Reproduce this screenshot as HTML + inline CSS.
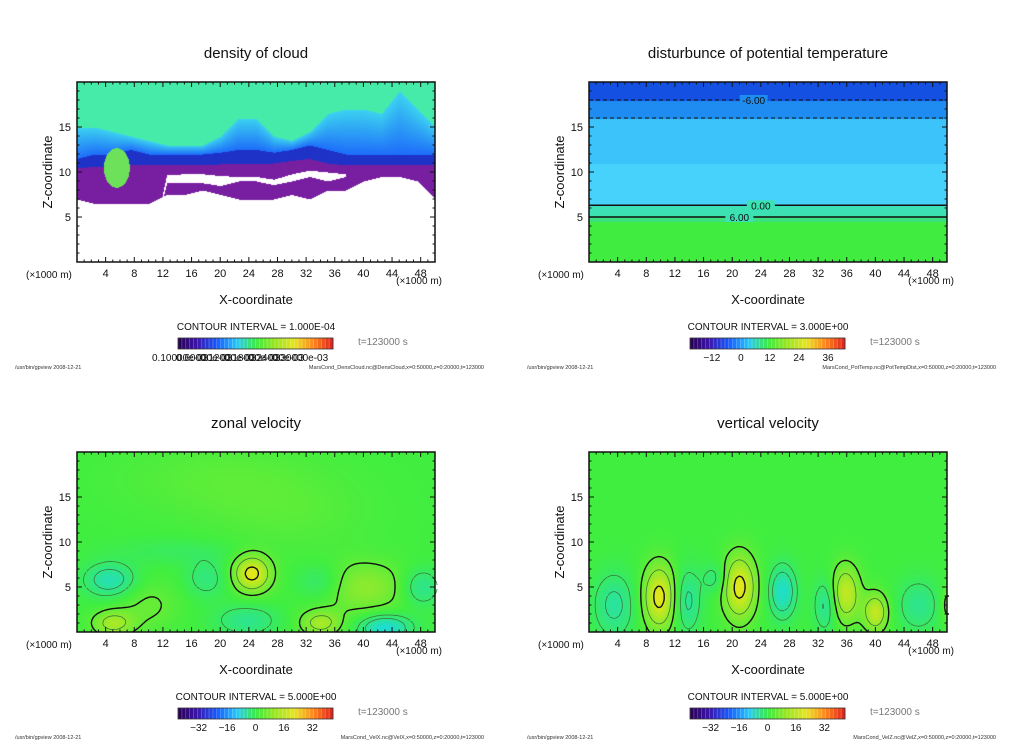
<!DOCTYPE html>
<html><head><meta charset="utf-8"><style>
body{margin:0;background:#fff;width:1024px;height:740px;overflow:hidden;position:relative;font-family:"Liberation Sans",sans-serif}
canvas{position:absolute}
svg{position:absolute;left:0;top:0}
</style></head><body>
<canvas id="c0" width="358" height="180" style="left:77px;top:82px"></canvas>
<canvas id="c1" width="358" height="180" style="left:589px;top:82px"></canvas>
<canvas id="c2" width="358" height="180" style="left:77px;top:452px"></canvas>
<canvas id="c3" width="358" height="180" style="left:589px;top:452px"></canvas>
<svg id="ov" width="1024" height="740"></svg>
<script>
// ---- data ----
const xTicks=[4,8,12,16,20,24,28,32,36,40,44,48];
const zTicks=[5,10,15];
const titles=["density of cloud","disturbunce of potential temperature","zonal velocity","vertical velocity"];
const intervals=["1.000E-04","3.000E+00","5.000E+00","5.000E+00"];
const footers=["MarsCond_DensCloud.nc@DensCloud,x=0:50000,z=0:20000,t=123000","MarsCond_PotTemp.nc@PotTempDist,x=0:50000,z=0:20000,t=123000","MarsCond_VelX.nc@VelX,x=0:50000,z=0:20000,t=123000","MarsCond_VelZ.nc@VelZ,x=0:50000,z=0:20000,t=123000"];
const ptTicks=[-12,0,12,24,36];
const velTicks=[-32,-16,0,16,32];
const cloudTickLabels=["0.10000e-03","0.60000e-03","0.12000e-03","0.18000e-03","0.24000e-03","0.30000e-03"];
// cloud layer boundaries sampled every 2.5 km
const cloudBase=[7,6.5,6.5,6.5,6.5,7.5,7.5,8,7.5,7,7,7,7.5,7,8,8,9,9.5,9.5,9,7];
const gapLo=[0,0,0,0,0,8.8,8.8,8.8,8.5,9,9,8.6,9,9.5,9,9.5,0,0,0,0,0];
const gapHi=[0,0,0,0,0,9.7,9.8,9.8,9.6,9.5,9.5,9.2,9.8,10.2,10,9.8,0,0,0,0,0];
const purpleTop=[10.5,10.6,10.6,10.8,10.8,10.8,10.8,10.8,10.9,11,11,11,11.3,11.5,11,10.8,10.8,10.8,10.8,10.8,10.8];
const blueTop=[11.5,12,12,12.5,12,12,12,12,12.2,12.5,12.5,12.2,12.5,13,12.5,12,12,12,12,12,12];
const cyanTop=[15,15,14.5,14,13.5,13,13,13,14,16,16,14,13.5,14.5,16.5,17,17,16.5,19,17,15];
// potential temperature layer heights (km)
const ptLayers=[4.5,5.2,6.3,16,18];
// velocity blobs: x km, z km, amplitude, sigma-x, sigma-z
const uBx=[24.4,4.6,23.7,43,39.5,5,34,34,48,18,10,30,20,14];
const uBz=[6.5,5.8,1.3,0.5,5,1,1,5.5,5,6,3,13,17,9];
const uBa=[25,-15,-10,-20,12,15,15,-10,-12,-8,6,3,4,-4];
const uBsx=[1.8,2.5,3,2.5,5,2,2,2.5,2,2,3,8,10,6];
const uBsz=[1.4,1.3,1.2,1,2,1,1,1.5,1.5,1.5,2,3,3,1];
const wBx=[9.8,21,35.8,40,3.5,13.7,27,33,46,17.5,50];
const wBz=[3.9,5,4.3,2.2,3,3.5,4.5,3,3,6,3];
const wBa=[25,25,20,20,-12,-12,-18,-12,-10,-8,8];
const wBsx=[1.6,1.6,1.4,1.2,2,1.3,1.3,1.1,2,1.2,0.7];
const wBsz=[2.5,2.5,2.2,1.5,2.5,2.5,2,2,2,1.2,1.5];
const velLevels=[-10,-5,5,12,22];

// ---- helpers ----
const X0=77,W=358,H=180;
function sx(km){return km/50*W;}
function sz(z){return H-z/20*H;}
function interp(arr,km){const p=km/2.5,i=Math.min(Math.floor(p),arr.length-2),f=p-i;return arr[i]*(1-f)+arr[i+1]*f;}
const cmStops=[[0,[40,0,80]],[0.12,[60,20,170]],[0.25,[20,90,255]],[0.38,[40,200,250]],[0.5,[60,235,70]],[0.62,[150,230,30]],[0.75,[230,230,30]],[0.88,[255,130,30]],[1,[220,30,30]]];
function cmap(t){t=Math.max(0,Math.min(1,t));for(let i=1;i<cmStops.length;i++){if(t<=cmStops[i][0]){const a=cmStops[i-1],b=cmStops[i],f=(t-a[0])/(b[0]-a[0]);return a[1].map((v,k)=>Math.round(v+(b[1][k]-v)*f));}}return cmStops[8][1];}
function velColor(v){
  if(v>=0){const f=Math.min(v/26,1);return [Math.round(64+(235-64)*f),Math.round(238-(8)*f),Math.round(64-40*f)];}
  const f=Math.min(-v/22,1);return [Math.round(64-40*f),Math.round(238-20*f),Math.round(64+170*f)];
}
function fill(id,fn){const c=document.getElementById(id).getContext('2d');const im=c.createImageData(W,H);
  for(let py=0;py<H;py++)for(let px=0;px<W;px++){const km=px/W*50,z=(H-py)/H*20;const col=fn(km,z);const o=(py*W+px)*4;im.data[o]=col[0];im.data[o+1]=col[1];im.data[o+2]=col[2];im.data[o+3]=255;}
  c.putImageData(im,0,0);}
function blobs(bx,bz,ba,bsx,bsz,km,z){let v=0;for(let i=0;i<bx.length;i++){const dx=(km-bx[i])/bsx[i],dz=(z-bz[i])/bsz[i];v+=ba[i]*Math.exp(-(dx*dx+dz*dz)/2);}return v;}
const uF=(km,z)=>blobs(uBx,uBz,uBa,uBsx,uBsz,km,z);
const wF=(km,z)=>blobs(wBx,wBz,wBa,wBsx,wBsz,km,z);

fill('c0',(km,z)=>{
  if(z<interp(cloudBase,km))return [255,255,255];
  const gl=interp(gapLo,km),gh=interp(gapHi,km);
  if(gh-gl>0.3&&z>gl&&z<gh)return [255,255,255];
  const gx=(km-5.5)/1.8,gz=(z-10.5)/2.2;if(gx*gx+gz*gz<1&&z>8)return [110,225,90];
  if(z<interp(purpleTop,km))return [120,30,160];
  if(z<interp(blueTop,km))return [30,50,200];
  const ct=interp(cyanTop,km);
  if(z<ct){const f=(z-interp(blueTop,km))/(ct-interp(blueTop,km));return [Math.round(30+30*f),Math.round(110+100*f),Math.round(250-10*f)];}
  return [70,235,170];
});
fill('c1',(km,z)=>{
  if(z<ptLayers[0])return [64,236,64];
  if(z<ptLayers[1])return [60,225,130];
  if(z<ptLayers[2])return [60,225,180];
  if(z<ptLayers[3]){return z<11?[70,210,250]:[60,195,250];}
  if(z<ptLayers[4])return [30,140,240];
  return [20,80,225];
});
fill('c2',(km,z)=>velColor(uF(km,z)));
fill('c3',(km,z)=>velColor(wF(km,z)));

// ---- overlay ----
const ns="http://www.w3.org/2000/svg";const ov=document.getElementById('ov');
function el(tag,attrs,parent,txt){const e=document.createElementNS(ns,tag);for(const k in attrs)e.setAttribute(k,attrs[k]);if(txt!==undefined)e.textContent=txt;(parent||ov).appendChild(e);return e;}
function contours(g,fn,L,T){
  const st=3,nx=Math.ceil(W/st),ny=Math.ceil(H/st);
  const val=[];for(let j=0;j<=ny;j++){val.push([]);for(let i=0;i<=nx;i++){val[j].push(fn(i*st/W*50,(H-j*st)/H*20));}}
  velLevels.forEach(lv=>{
    let d='';
    for(let j=0;j<ny;j++)for(let i=0;i<nx;i++){
      const c=[val[j][i],val[j][i+1],val[j+1][i+1],val[j+1][i]];
      const P=[[i,j],[i+1,j],[i+1,j+1],[i,j+1]];const pts=[];
      for(let e=0;e<4;e++){const a=c[e]-lv,b=c[(e+1)%4]-lv;if((a<0)!==(b<0)){const f=a/(a-b),p1=P[e],p2=P[(e+1)%4];pts.push([L+(p1[0]+(p2[0]-p1[0])*f)*st,T+(p1[1]+(p2[1]-p1[1])*f)*st]);}}
      for(let k=0;k+1<pts.length;k+=2)d+=`M${pts[k][0].toFixed(1)},${pts[k][1].toFixed(1)}L${pts[k+1][0].toFixed(1)},${pts[k+1][1].toFixed(1)}`;
    }
    if(d){const pth=el('path',{d:d,fill:'none',stroke:lv>=20||lv===5?'#111':'#3a7a3a','stroke-width':lv>=20||lv===5?1.4:0.8,'stroke-dasharray':lv<0?'3,2':'none'},g);
      }
  });
}
const offs=[[0,0],[512,0],[0,370],[512,370]];
const barRanges=[[0,1],[-21,43],[-43.6,43.6],[-43.6,43.6]];
offs.forEach((o,p)=>{
  const g=el('g',{transform:`translate(${o[0]},${o[1]})`});
  
  
  const L=X0,T=82,R=X0+W,B=T+H;
  const t=el('text',{x:256,y:58,'text-anchor':'middle','font-size':15,fill:'#111'},g,titles[p]);
  
  if(p===2)contours(g,uF,L,T);
  if(p===3)contours(g,wF,L,T);
  if(p===1){
    [[18,true],[16,true],[6.3,false],[5,false]].forEach(([z,d])=>{const ln=el('line',{x1:L,x2:R,y1:T+sz(z),y2:T+sz(z),stroke:'#111','stroke-width':d?1:1.5,'stroke-dasharray':d?'4,3':'none'},g);});
    [["-6.00",23,18],["0.00",24,6.3],["6.00",21,5]].forEach(([s,km,z])=>{el('rect',{x:L+sx(km)-14,y:T+sz(z)-5,width:28,height:10,fill:z>10?'#1e8cf0':'#3ce1b4'},g);const tx=el('text',{x:L+sx(km),y:T+sz(z)+4,'text-anchor':'middle','font-size':10,fill:'#111'},g,s);});
  }
  const fr=el('rect',{x:L,y:T,width:W,height:H,fill:'none',stroke:'#111','stroke-width':1.5},g);
  
  for(let k=1;k<50;k++){const x=L+sx(k),len=k%4===0?5:2.5;el('line',{x1:x,x2:x,y1:B,y2:B-len,stroke:'#111'},g);el('line',{x1:x,x2:x,y1:T,y2:T+len,stroke:'#111'},g);}
  for(let k=1;k<20;k++){const y=T+sz(k),len=k%5===0?5:2.5;el('line',{x1:L,x2:L+len,y1:y,y2:y,stroke:'#111'},g);el('line',{x1:R,x2:R-len,y1:y,y2:y,stroke:'#111'},g);}
  xTicks.forEach(v=>{const tx=el('text',{x:L+sx(v),y:B+15,'text-anchor':'middle','font-size':11,fill:'#111'},g,v);});
  zTicks.forEach(v=>{const tx=el('text',{x:L-6,y:T+sz(v)+4,'text-anchor':'end','font-size':11,fill:'#111'},g,v);});
  el('text',{x:26,y:B+16,'font-size':10,fill:'#111'},g,'(×1000 m)');
  el('text',{x:442,y:B+22,'text-anchor':'end','font-size':10,fill:'#111'},g,'(×1000 m)');
  el('text',{x:256,y:304,'text-anchor':'middle','font-size':13,fill:'#111'},g,'X-coordinate');
  el('text',{x:0,y:0,'text-anchor':'middle','font-size':13,fill:'#111',transform:`translate(52,172) rotate(-90)`},g,'Z-coordinate');
  el('text',{x:256,y:330,'text-anchor':'middle','font-size':10,fill:'#111'},g,'CONTOUR INTERVAL = '+intervals[p]);
  el('text',{x:358,y:345,'font-size':10,fill:'#777'},g,'t=123000 s');
  const cb=el('g',{},g);
  const n=40;for(let i=0;i<n;i++){const c=cmap((i+0.5)/n);el('rect',{x:178+i*155/n,y:338,width:155/n+0.3,height:11,fill:`rgb(${c})`},cb);el('line',{x1:178+i*155/n,x2:178+i*155/n,y1:338,y2:349,stroke:'rgba(255,255,255,0.35)','stroke-width':0.6},cb);}
  el('rect',{x:178,y:338,width:155,height:11,fill:'none',stroke:'#333','stroke-width':0.8},cb);
  if(p===0){cloudTickLabels.forEach((s,i)=>{el('text',{x:152+i*24,y:361,'font-size':10,fill:'#111'},cb,s);});}
  else{const tk=p===1?ptTicks:velTicks,r=barRanges[p];tk.forEach(v=>{const tx=el('text',{x:178+(v-r[0])/(r[1]-r[0])*155,y:361,'text-anchor':'middle','font-size':10,fill:'#111'},cb,v===0?'0':(v<0?'−'+(-v):v));});}
  el('text',{x:15,y:369,'font-size':5.5,fill:'#333'},g,'/usr/bin/gpview   2008-12-21');
  el('text',{x:484,y:369,'text-anchor':'end','font-size':5.5,fill:'#333'},g,footers[p]);
});
</script>
</body></html>
